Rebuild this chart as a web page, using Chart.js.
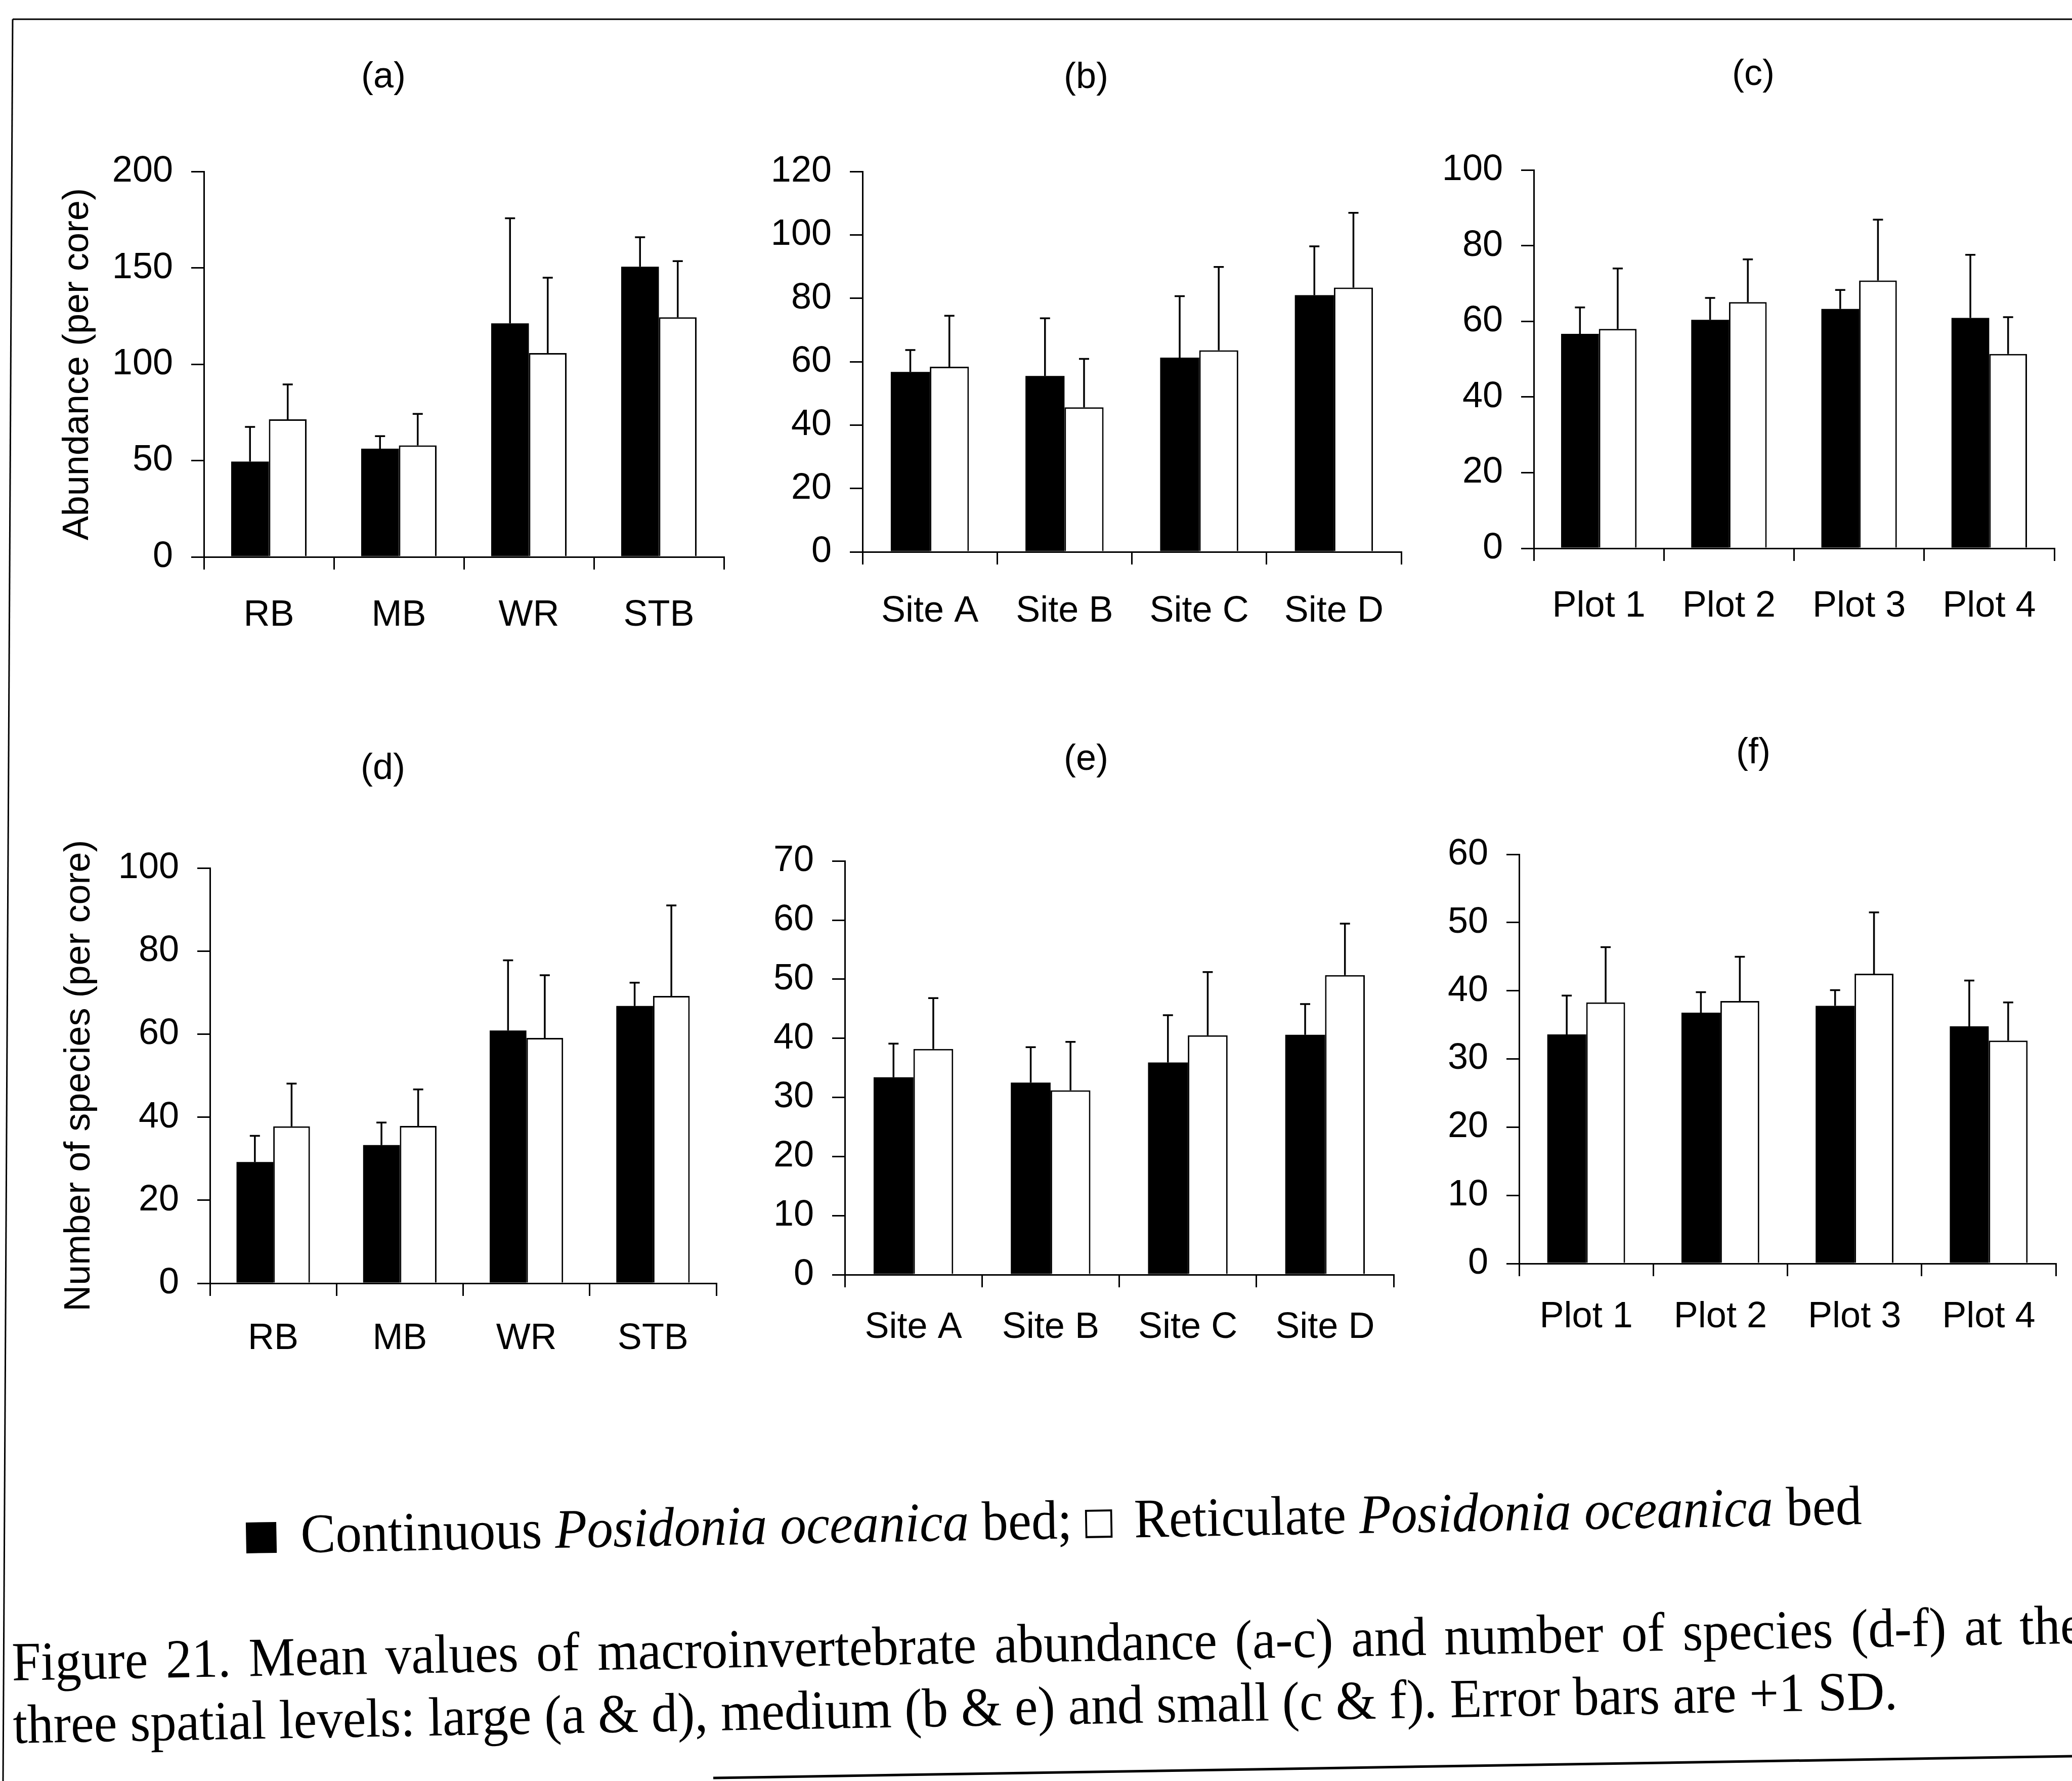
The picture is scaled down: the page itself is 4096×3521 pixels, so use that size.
<!DOCTYPE html>
<html>
<head>
<meta charset="utf-8">
<script src="https://cdn.jsdelivr.net/npm/chart.js@4.4.1/dist/chart.umd.min.js"></script>
<style>
    html, body { margin: 0; padding: 0; background: #fff; }
    body { width: 4096px; height: 3521px; position: relative; overflow: hidden; }
    canvas { position: absolute; }
    svg { position: absolute; left: 0; top: 0; }
    .ptitle {
        position: absolute; font-family: "Liberation Sans", Arial, sans-serif; font-size: 72px;
        line-height: 1; color: #000; transform: translate(-50%, -50%); white-space: nowrap;
    }
    .serif {
        position: absolute; font-family: "Liberation Serif", "Times New Roman", serif;
        color: #000; white-space: nowrap; line-height: 124px;
    }
    #legend { left: 487px; top: 2972px; font-size: 110px; transform-origin: 0 99px; transform: rotate(-1.04deg) scaleX(0.94); }
    #caption { left: 24px; top: 3224px; width: 4334px; font-size: 109px; transform-origin: 0 99px; transform: rotate(-1.03deg) scaleX(0.945); }
    #caption .justified { text-align: justify; text-align-last: justify; white-space: normal; }
    .sq { display: inline-block; box-sizing: border-box; vertical-align: baseline; }
    .sq.black { width: 64px; height: 61px; background: #000; margin-right: 51px; }
    .sq.white { width: 57px; height: 56px; border: 4px solid #000; background: #fff; margin-right: 46px; }
</style>
</head>
<body>
<svg width="4096" height="3521">
    <line x1="25" y1="38" x2="4096" y2="38" stroke="#000" stroke-width="3"/>
    <line x1="25" y1="38" x2="6" y2="3521" stroke="#000" stroke-width="3"/>
    <line x1="1410" y1="3515" x2="4096" y2="3472" stroke="#000" stroke-width="5"/>
</svg>

<div class="ptitle" style="left:758px; top:148px;">(a)</div>
<div class="ptitle" style="left:2147px; top:149px;">(b)</div>
<div class="ptitle" style="left:3466px; top:143px;">(c)</div>
<div class="ptitle" style="left:757px; top:1515px;">(d)</div>
<div class="ptitle" style="left:2147px; top:1497px;">(e)</div>
<div class="ptitle" style="left:3466px; top:1484px;">(f)</div>

<div id="legend" class="serif"><span class="sq black"></span>Continuous <i>Posidonia oceanica</i> bed; <span class="sq white"></span>Reticulate <i>Posidonia oceanica</i> bed</div>

<div id="caption" class="serif">
    <div class="justified">Figure 21. Mean values of macroinvertebrate abundance (a-c) and number of species (d-f) at the</div>
    <div>three spatial levels: large (a &amp; d), medium (b &amp; e) and small (c &amp; f). Error bars are +1 SD.</div>
</div>

<script>
const largeLabels = ['RB', 'MB', 'WR', 'STB'];
const mediumLabels = ['Site A', 'Site B', 'Site C', 'Site D'];
const smallLabels = ['Plot 1', 'Plot 2', 'Plot 3', 'Plot 4'];

// abundance (per core): means and +1 SD
const abundLargeCont = [49.5, 56.2, 121.2, 150.6];
const abundLargeContSD = [18, 6.5, 54.6, 15.3];
const abundLargeRet = [71.4, 57.9, 105.8, 124.4];
const abundLargeRetSD = [18.1, 16.3, 39.1, 29.1];

const abundMediumCont = [56.8, 55.5, 61.3, 81.0];
const abundMediumContSD = [6.9, 18.2, 19.4, 15.4];
const abundMediumRet = [58.4, 45.6, 63.6, 83.4];
const abundMediumRetSD = [16.1, 15.3, 26.3, 23.6];

const abundSmallCont = [56.7, 60.4, 63.3, 60.9];
const abundSmallContSD = [7.0, 5.8, 5.0, 16.7];
const abundSmallRet = [58.0, 65.1, 70.8, 51.4];
const abundSmallRetSD = [16.0, 11.3, 16.1, 9.7];

// number of species (per core): means and +1 SD
const speciesLargeCont = [29.2, 33.3, 60.9, 66.8];
const speciesLargeContSD = [6.3, 5.4, 16.9, 5.6];
const speciesLargeRet = [37.8, 37.9, 59.1, 69.2];
const speciesLargeRetSD = [10.3, 8.8, 15.1, 21.8];

const speciesMediumCont = [33.4, 32.5, 35.9, 40.6];
const speciesMediumContSD = [5.7, 6.0, 8.0, 5.2];
const speciesMediumRet = [38.2, 31.2, 40.5, 50.7];
const speciesMediumRetSD = [8.6, 8.2, 10.7, 8.7];

const speciesSmallCont = [33.6, 36.8, 37.8, 34.8];
const speciesSmallContSD = [5.7, 3.0, 2.3, 6.7];
const speciesSmallRet = [38.3, 38.5, 42.5, 32.7];
const speciesSmallRetSD = [8.1, 6.5, 9.0, 5.6];

const FONT = { family: '"Liberation Sans", Arial, sans-serif', size: 72 };
const PAD_T = 60;
const PAD_R = 60;
const X_H = 200;

const panels = [
    { labels: largeLabels, cont: abundLargeCont, contSD: abundLargeContSD, ret: abundLargeRet, retSD: abundLargeRetSD,
      max: 200, step: 50, yTitle: 'Abundance (per core)', axisX: 403, axisEnd: 1431, topY: 320, zeroY: 1101, yWidth: 285, xPad: 48 },
    { labels: mediumLabels, cont: abundMediumCont, contSD: abundMediumContSD, ret: abundMediumRet, retSD: abundMediumRetSD,
      max: 120, step: 20, yTitle: '', axisX: 1705, axisEnd: 2770, topY: 320, zeroY: 1091, yWidth: 250, xPad: 50 },
    { labels: smallLabels, cont: abundSmallCont, contSD: abundSmallContSD, ret: abundSmallRet, retSD: abundSmallRetSD,
      max: 100, step: 20, yTitle: '', axisX: 3032, axisEnd: 4061, topY: 317, zeroY: 1084, yWidth: 250, xPad: 47 },
    { labels: largeLabels, cont: speciesLargeCont, contSD: speciesLargeContSD, ret: speciesLargeRet, retSD: speciesLargeRetSD,
      max: 100, step: 20, yTitle: 'Number of species (per core)', axisX: 415, axisEnd: 1416, topY: 1697, zeroY: 2537, yWidth: 294, xPad: 42 },
    { labels: mediumLabels, cont: speciesMediumCont, contSD: speciesMediumContSD, ret: speciesMediumRet, retSD: speciesMediumRetSD,
      max: 70, step: 10, yTitle: '', axisX: 1670, axisEnd: 2755, topY: 1683, zeroY: 2520, yWidth: 250, xPad: 37 },
    { labels: smallLabels, cont: speciesSmallCont, contSD: speciesSmallContSD, ret: speciesSmallRet, retSD: speciesSmallRetSD,
      max: 60, step: 10, yTitle: '', axisX: 3003, axisEnd: 4064, topY: 1670, zeroY: 2498, yWidth: 250, xPad: 38 }
];

// +1 SD whiskers on top of every bar
const errorBars = {
    id: 'errorBars',
    afterDatasetsDraw(chart) {
        const ctx = chart.ctx;
        const yScale = chart.scales.y;
        chart.data.datasets.forEach((ds, i) => {
            chart.getDatasetMeta(i).data.forEach((bar, j) => {
                const top = yScale.getPixelForValue(ds.data[j] + ds.sd[j]);
                ctx.save();
                ctx.strokeStyle = '#000';
                ctx.lineWidth = 3.5;
                ctx.beginPath();
                ctx.moveTo(bar.x, bar.y);
                ctx.lineTo(bar.x, top);
                ctx.moveTo(bar.x - 10, top);
                ctx.lineTo(bar.x + 10, top);
                ctx.stroke();
                ctx.restore();
            });
        });
    }
};

function makePanel(p) {
    const canvas = document.createElement('canvas');
    const left = p.axisX - p.yWidth;
    const top = p.topY - PAD_T;
    canvas.width = p.axisEnd + PAD_R - left;
    canvas.height = p.zeroY + X_H - top;
    canvas.style.left = left + 'px';
    canvas.style.top = top + 'px';
    document.body.appendChild(canvas);

    new Chart(canvas.getContext('2d'), {
        type: 'bar',
        data: {
            labels: p.labels,
            datasets: [
                { label: 'Continuous', data: p.cont, sd: p.contSD, backgroundColor: '#000', borderColor: '#000', borderWidth: 0 },
                { label: 'Reticulate', data: p.ret, sd: p.retSD, backgroundColor: '#fff', borderColor: '#000', borderWidth: 3 }
            ]
        },
        options: {
            responsive: false,
            animation: false,
            devicePixelRatio: 1,
            layout: { padding: { left: 0, top: PAD_T, right: PAD_R, bottom: 0 } },
            datasets: { bar: { categoryPercentage: 0.58, barPercentage: 1 } },
            plugins: { legend: { display: false }, tooltip: { enabled: false } },
            scales: {
                x: {
                    offset: true,
                    grid: { offset: true, drawOnChartArea: false, drawTicks: true, tickLength: 25, color: '#000', lineWidth: 3 },
                    border: { display: true, color: '#000', width: 3 },
                    ticks: { color: '#000', font: FONT, padding: p.xPad, autoSkip: false, maxRotation: 0 },
                    afterFit: s => { s.height = X_H; }
                },
                y: {
                    min: 0,
                    max: p.max,
                    grid: { drawOnChartArea: false, drawTicks: true, tickLength: 25, color: '#000', lineWidth: 3 },
                    border: { display: true, color: '#000', width: 3 },
                    ticks: { stepSize: p.step, color: '#000', font: FONT, padding: 36 },
                    title: { display: p.yTitle !== '', text: p.yTitle, color: '#000', padding: 0,
                             font: { family: FONT.family, size: 72, lineHeight: 1 } },
                    afterFit: s => { s.width = p.yWidth; }
                }
            }
        },
        plugins: [errorBars]
    });
}

panels.forEach(makePanel);
</script>
</body>
</html>
